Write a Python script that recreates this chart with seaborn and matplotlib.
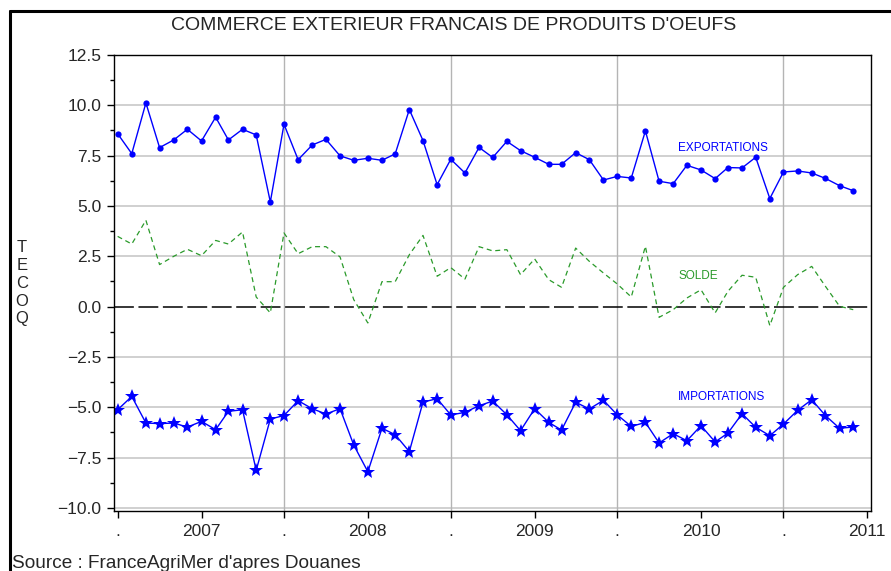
import pandas as pd
import numpy as np
import matplotlib
matplotlib.use("Agg")
import matplotlib.pyplot as plt
from matplotlib.ticker import MultipleLocator
from matplotlib.lines import Line2D
import seaborn as sns

# Donnees mensuelles (juillet 2006 - decembre 2010), en TEC oeufs
months = pd.date_range("2006-07-01", periods=54, freq="MS")

exportations = [8.59, 7.60, 10.12, 7.90, 8.28, 8.81, 8.23, 9.41, 8.28, 8.81, 8.53, 5.20,
                9.06, 7.30, 8.03, 8.31, 7.49, 7.27, 7.37, 7.27, 7.59, 9.79, 8.25, 6.06,
                7.32, 6.64, 7.91, 7.41, 8.21, 7.75, 7.42, 7.07, 7.07, 7.65, 7.30, 6.29,
                6.47, 6.39, 8.73, 6.23, 6.11, 7.02, 6.79, 6.36, 6.91, 6.89, 7.42, 5.37,
                6.69, 6.74, 6.64, 6.37, 6.01, 5.76]

solde = [3.49, 3.11, 4.29, 2.09, 2.50, 2.85, 2.53, 3.29, 3.11, 3.71, 0.48, -0.31,
         3.66, 2.63, 2.98, 2.98, 2.47, 0.35, -0.81, 1.24, 1.24, 2.58, 3.54, 1.51,
         1.94, 1.37, 2.98, 2.77, 2.83, 1.59, 2.37, 1.34, 0.96, 2.91, 2.25, 1.67,
         1.13, 0.48, 3.00, -0.53, -0.15, 0.43, 0.84, -0.31, 0.76, 1.56, 1.46, -0.94,
         0.96, 1.59, 2.00, 1.01, 0.02, -0.15]

importations = [-5.12, -4.46, -5.78, -5.81, -5.78, -5.98, -5.70, -6.11, -5.20, -5.12, -8.13, -5.58,
                -5.41, -4.67, -5.07, -5.33, -5.07, -6.87, -8.20, -6.04, -6.36, -7.20, -4.74, -4.57,
                -5.38, -5.25, -4.92, -4.69, -5.37, -6.16, -5.07, -5.75, -6.13, -4.75, -5.08, -4.65,
                -5.37, -5.95, -5.75, -6.77, -6.31, -6.66, -5.91, -6.72, -6.28, -5.32, -5.99, -6.41,
                -5.83, -5.15, -4.62, -5.41, -6.04, -5.98]

x_ticks = pd.to_datetime(["2006-07-01", "2007-01-01", "2007-07-01", "2008-01-01", "2008-07-01",
                          "2009-01-01", "2009-07-01", "2010-01-01", "2010-07-01", "2011-01-01"])
x_labels = [".", "2007", ".", "2008", ".", "2009", ".", "2010", ".", "2011"]
y_ticks = [-10.0, -7.5, -5.0, -2.5, 0.0, 2.5, 5.0, 7.5, 10.0, 12.5]

df = pd.DataFrame({"mois": months, "EXPORTATIONS": exportations,
                   "SOLDE": solde, "IMPORTATIONS": importations})

sns.set_style("white")
plt.rcParams["font.family"] = ["Liberation Sans", "DejaVu Sans"]

fig = plt.figure(figsize=(8.91, 5.71), dpi=100)
ax = fig.add_axes([114 / 891, 1 - 511 / 571, (871 - 114) / 891, (511 - 55) / 571])

bleu = "#0000ff"
vert = "#2a9a2a"

# grille
for v in y_ticks:
    if v != 0:
        ax.axhline(v, color="#c8c8c8", lw=1.2, zorder=0)
for d, lab in zip(x_ticks, x_labels):
    if lab == "." and d != x_ticks[0]:
        ax.axvline(d, color="#b4b4b4", lw=1.0, zorder=0)
ax.axhline(0, color="black", lw=1.1, dashes=(13, 3), zorder=1)

sns.lineplot(data=df, x="mois", y="EXPORTATIONS", ax=ax, color=bleu, lw=1.0,
             marker="o", markersize=4.5, markeredgewidth=0)
sns.lineplot(data=df, x="mois", y="IMPORTATIONS", ax=ax, color=bleu, lw=1.0,
             marker="*", markersize=10, markeredgewidth=0)
sns.lineplot(data=df, x="mois", y="SOLDE", ax=ax, color=vert, lw=0.9)
ax.lines[-1].set_dashes((4, 3))

x_lab = pd.Timestamp("2009-11-12")
ax.text(x_lab, 7.9, "EXPORTATIONS", color=bleu, fontsize=8.5, va="center")
ax.text(x_lab, 1.5, "SOLDE", color=vert, fontsize=8.5, va="center")
ax.text(x_lab, -4.47, "IMPORTATIONS", color=bleu, fontsize=8.5, va="center")

ax.set_xlim(pd.Timestamp("2006-06-23"), pd.Timestamp("2011-01-09"))
ax.set_ylim(-10.15, 12.5)
ax.set_xticks(x_ticks)
ax.set_xticklabels(x_labels, fontsize=12.5)
ax.set_yticks(y_ticks)
ax.set_yticklabels([f"{v:.1f}".replace("-", "\u2212") for v in y_ticks], fontsize=12.5)
ax.yaxis.set_minor_locator(MultipleLocator(1.25))
ax.tick_params(axis="both", which="major", direction="out", length=5, width=1, color="black", pad=4)
ax.tick_params(axis="y", which="minor", direction="out", length=3, width=1, color="black", left=True)
ax.tick_params(axis="x", bottom=True)
ax.tick_params(axis="y", left=True)
ax.set_xlabel("")
ax.set_ylabel("")
for s in ax.spines.values():
    s.set_color("black")
    s.set_linewidth(1.0)

fig.text(22 / 891, 1 - 283 / 571, "T\nE\nC\nO\nQ", fontsize=12, ha="center", va="center",
         linespacing=1.25)
fig.text(454 / 891, 1 - 25 / 571, "COMMERCE EXTERIEUR FRANCAIS DE PRODUITS D'OEUFS",
         fontsize=14, ha="center", va="center")
fig.text(12 / 891, 1 - 563 / 571, "Source : FranceAgriMer d'apres Douanes",
         fontsize=13.7, ha="left", va="center")

# cadre
fig.add_artist(Line2D([10 / 891, 1.0], [1 - 11 / 571, 1 - 11 / 571], color="black", lw=2.2,
                      transform=fig.transFigure))
fig.add_artist(Line2D([10 / 891, 10 / 891], [1 - 11 / 571, 0.0], color="black", lw=2.2,
                      transform=fig.transFigure))

fig.savefig("out.png", dpi=100)
